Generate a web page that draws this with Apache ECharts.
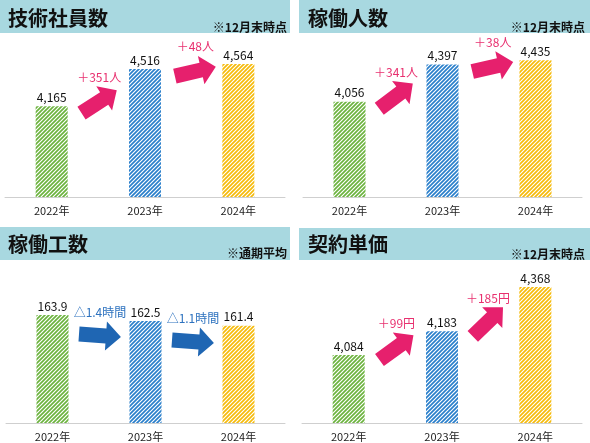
<!DOCTYPE html>
<html>
<head>
<meta charset="utf-8">
<script src="https://cdn.jsdelivr.net/npm/echarts/dist/echarts.min.js"></script>
<style>
html,body{margin:0;padding:0;background:#fff}
#main{width:590px;height:443px}
</style>
</head>
<body>
<div id="main"></div>
<script>
var years = ['2022年', '2023年', '2024年'];
var engineers = [4165, 4516, 4564];   // 技術社員数
var working = [4056, 4397, 4435];     // 稼働人数
var workHours = [163.9, 162.5, 161.4]; // 稼働工数
var unitPrice = [4084, 4183, 4368];   // 契約単価

var FONT = '"Noto Sans CJK JP", "Noto Sans", sans-serif';
var barColors = ['#6cb33e', '#2a7fcb', '#f6bb0a'];
var PINK = '#e6206d', BLUE = '#1f66b3';

// striped fill for bars
function stripe(color){
    var p = 4;
    var c = document.createElement('canvas');
    c.width = p; c.height = p;
    var ctx = c.getContext('2d');
    ctx.fillStyle = '#fff';
    ctx.fillRect(0, 0, p, p);
    ctx.strokeStyle = color;
    ctx.lineWidth = 1.7;
    ctx.beginPath();
    ctx.moveTo(-1, p + 1); ctx.lineTo(p + 1, -1);
    ctx.moveTo(-1, 1); ctx.lineTo(1, -1);
    ctx.moveTo(p - 1, p + 1); ctx.lineTo(p + 1, p - 1);
    ctx.stroke();
    return {image: c, repeat: 'repeat'};
}

function comma(v){ return v.toLocaleString('en-US'); }

var panels = [
    {title: '技術社員数', note: '※12月末時点', data: engineers, min: 3304, max: 4792,
     grid: {left: 5, top: 40, width: 280, height: 157},
     banner: [0, 0, 290, 33], tx: 8, ty: 18, nx: 287, ny: 27,
     fmt: comma, delta: function(a, b){ return '＋' + (b - a) + '人'; },
     arrow: PINK, angles: [33, 13], drop: 7, frac: 0.32},
    {title: '稼働人数', note: '※12月末時点', data: working, min: 3186, max: 4621,
     grid: {left: 303, top: 40, width: 279, height: 157},
     banner: [299, 0, 291, 33], tx: 308, ty: 18, nx: 585, ny: 27,
     fmt: comma, delta: function(a, b){ return '＋' + (b - a) + '人'; },
     arrow: PINK, angles: [37, 13], drop: 7, frac: 0.32},
    {title: '稼働工数', note: '※通期平均', data: workHours, min: 138.7, max: 175.6,
     grid: {left: 6, top: 265, width: 279, height: 158},
     banner: [0, 227, 290, 33], tx: 8, ty: 244, nx: 287, ny: 253,
     fmt: function(v){ return v.toFixed(1); },
     delta: function(a, b){ return '△' + (a - b).toFixed(1) + '時間'; },
     arrow: BLUE, angles: [-4, -4], drop: 19, frac: 0.285},
    {title: '契約単価', note: '※12月末時点', data: unitPrice, min: 3800, max: 4460,
     grid: {left: 302, top: 265, width: 280, height: 158},
     banner: [299, 228, 291, 32], tx: 308, ty: 244, nx: 585, ny: 254,
     fmt: comma, delta: function(a, b){ return '＋' + (b - a) + '円'; },
     arrow: PINK, angles: [36, 44], drop: 5, frac: 0.33}
];

function arrowRender(p){
    return function(params, api){
        var i = api.value(0), a = api.value(1), b = api.value(2);
        var c0 = api.coord([i, a]);
        var c1 = api.coord([i + 1, b]);
        var step = c1[0] - c0[0];
        var ang = p.angles[i] * Math.PI / 180;
        var L = 42, hw = 7.5, hh = 14.5, hl = 15;
        var tx = c0[0] + p.frac * step, ty = c0[1] + p.drop;
        var ux = Math.cos(ang), uy = -Math.sin(ang);
        var px = tx + ux * L, py = ty + uy * L;
        var nx = -uy, ny = ux;
        var bx = px - ux * hl, by = py - uy * hl;
        var pts = [
            [tx + nx * hw, ty + ny * hw], [bx + nx * hw, by + ny * hw], [bx + nx * hh, by + ny * hh],
            [px, py],
            [bx - nx * hh, by - ny * hh], [bx - nx * hw, by - ny * hw], [tx - nx * hw, ty - ny * hw]
        ];
        var top = Math.min.apply(null, pts.map(function(q){ return q[1]; }));
        return {
            type: 'group',
            children: [
                {type: 'polygon', shape: {points: pts}, style: {fill: p.arrow}},
                {type: 'text', x: (tx + px) / 2, y: top - 3,
                 style: {text: p.delta(a, b), fill: p.arrow == PINK ? '#e8306f' : '#2d72bf',
                         fontSize: 12, fontFamily: FONT, align: 'center', verticalAlign: 'bottom'}}
            ]
        };
    };
}

var grids = [], xAxes = [], yAxes = [], series = [], graphics = [];
panels.forEach(function(p, k){
    grids.push(p.grid);
    xAxes.push({
        type: 'category', gridIndex: k, data: years,
        axisLine: {lineStyle: {color: '#cfcfcf'}},
        axisTick: {length: 4, lineStyle: {color: '#cfcfcf'}},
        axisLabel: {fontSize: 11, color: '#222', margin: 8, fontFamily: FONT}
    });
    yAxes.push({type: 'value', gridIndex: k, min: p.min, max: p.max, show: false, splitLine: {show: false}});
    series.push({
        type: 'bar', xAxisIndex: k, yAxisIndex: k, barWidth: 32,
        data: p.data.map(function(v, j){ return {value: v, itemStyle: {color: stripe(barColors[j])}}; }),
        label: {show: true, position: 'top', distance: 3, fontSize: 12, color: '#111', fontFamily: FONT,
                formatter: function(o){ return p.fmt(o.value); }},
        silent: true
    });
    series.push({
        type: 'custom', xAxisIndex: k, yAxisIndex: k,
        data: [[0, p.data[0], p.data[1]], [1, p.data[1], p.data[2]]],
        renderItem: arrowRender(p), silent: true
    });
    graphics.push({type: 'rect', shape: {x: p.banner[0], y: p.banner[1], width: p.banner[2], height: p.banner[3]},
                   style: {fill: '#a8d8e0'}, z: -1});
    graphics.push({type: 'text', x: p.tx, y: p.ty,
                   style: {text: p.title, fontSize: 20, fontWeight: 'bold', fontFamily: FONT, fill: '#111', verticalAlign: 'middle'}});
    graphics.push({type: 'text', x: p.nx, y: p.ny,
                   style: {text: p.note, fontSize: 12, fontWeight: 'bold', fontFamily: FONT, fill: '#111', align: 'right', verticalAlign: 'middle'}});
});

var chart = echarts.init(document.getElementById('main'));
chart.setOption({
    animation: false,
    backgroundColor: '#fff',
    grid: grids,
    xAxis: xAxes,
    yAxis: yAxes,
    series: series,
    graphic: graphics
});
</script>
</body>
</html>
